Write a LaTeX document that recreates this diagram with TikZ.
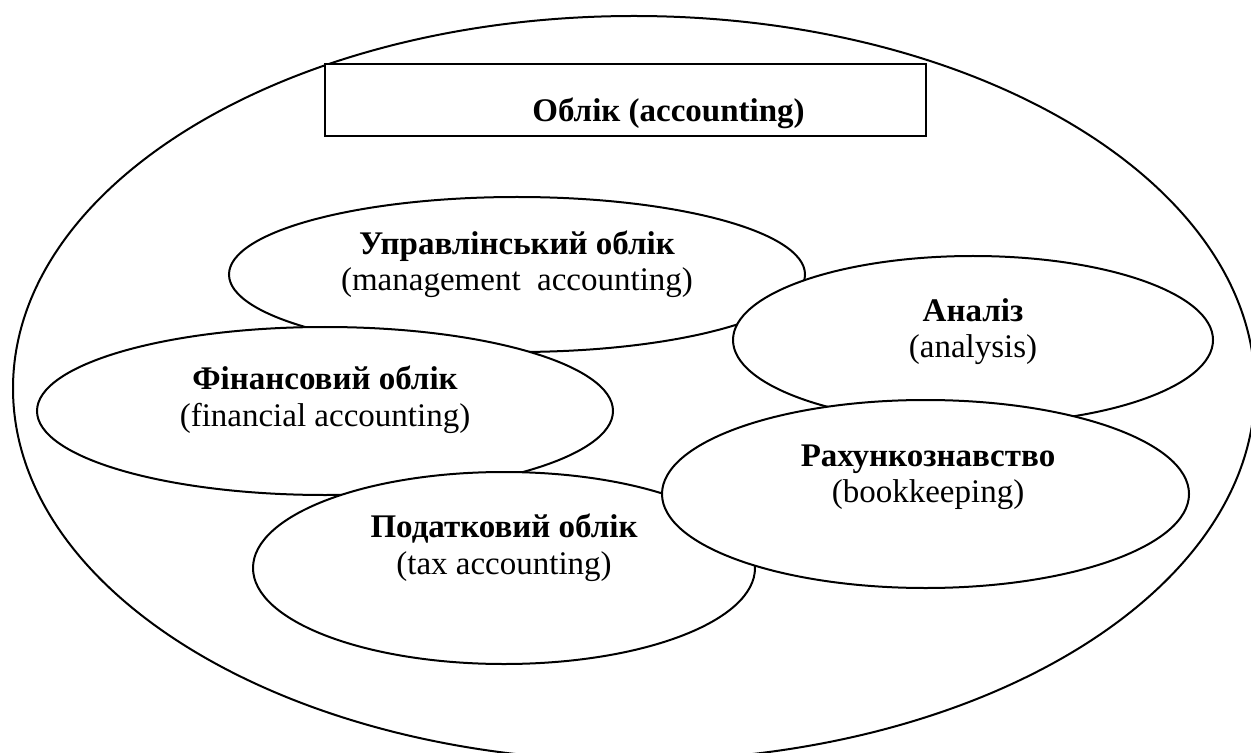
\documentclass[tikz,border=0pt]{standalone}
\usepackage{fontspec}
\setmainfont{Liberation Serif}
\usetikzlibrary{shapes.geometric}
\begin{document}
\begin{tikzpicture}[x=0.5pt,y=-0.5pt,
  outline/.style={draw=black, line width=1pt},
  area/.style={outline, ellipse, fill=white, inner sep=0pt},
  caption/.style={align=center, inner sep=0pt, font=\fontsize{16.5}{18.25}\selectfont},
  heading/.style={inner sep=0pt, font=\fontsize{16.5}{18.25}\selectfont\bfseries},
]
\useasboundingbox (0,0) rectangle (1251,753);
\clip (0,0) rectangle (1251,753);

% enclosing field of accounting
\node[area, minimum width=621pt, minimum height=372.4pt] (whole) at (634,388.4) {};

% title box
\node[outline, fill=white, minimum width=300.5pt, minimum height=36pt, inner sep=0pt] (titlebox) at (625.5,100) {};
\node[heading, anchor=base] (titletext) at (668.5,122) {Облік (accounting)};

% overlapping branches, back to front
\node[area, minimum width=288pt, minimum height=77.5pt] (mgmt) at (517,274.5) {};
\node[caption] (mgmttext) at (517,264.5) {\textbf{Управлінський облік}\\(management\ \ accounting)};

\node[area, minimum width=288pt, minimum height=84pt] (fin) at (325,411) {};
\node[caption] (fintext) at (325,399.5) {\textbf{Фінансовий облік}\\(financial accounting)};

\node[area, minimum width=240pt, minimum height=84pt] (anal) at (973,340) {};
\node[caption] (analtext) at (973,331.5) {\textbf{Аналіз}\\(analysis)};

\node[area, minimum width=251pt, minimum height=96pt] (tax) at (504,568) {};
\node[caption] (taxtext) at (504,547.5) {\textbf{Податковий облік}\\(tax accounting)};

\node[area, minimum width=263.5pt, minimum height=94pt] (book) at (925.5,494) {};
\node[caption] (booktext) at (928,477.5) {\textbf{Рахункознавство}\\(bookkeeping)};
\end{tikzpicture}
\end{document}
